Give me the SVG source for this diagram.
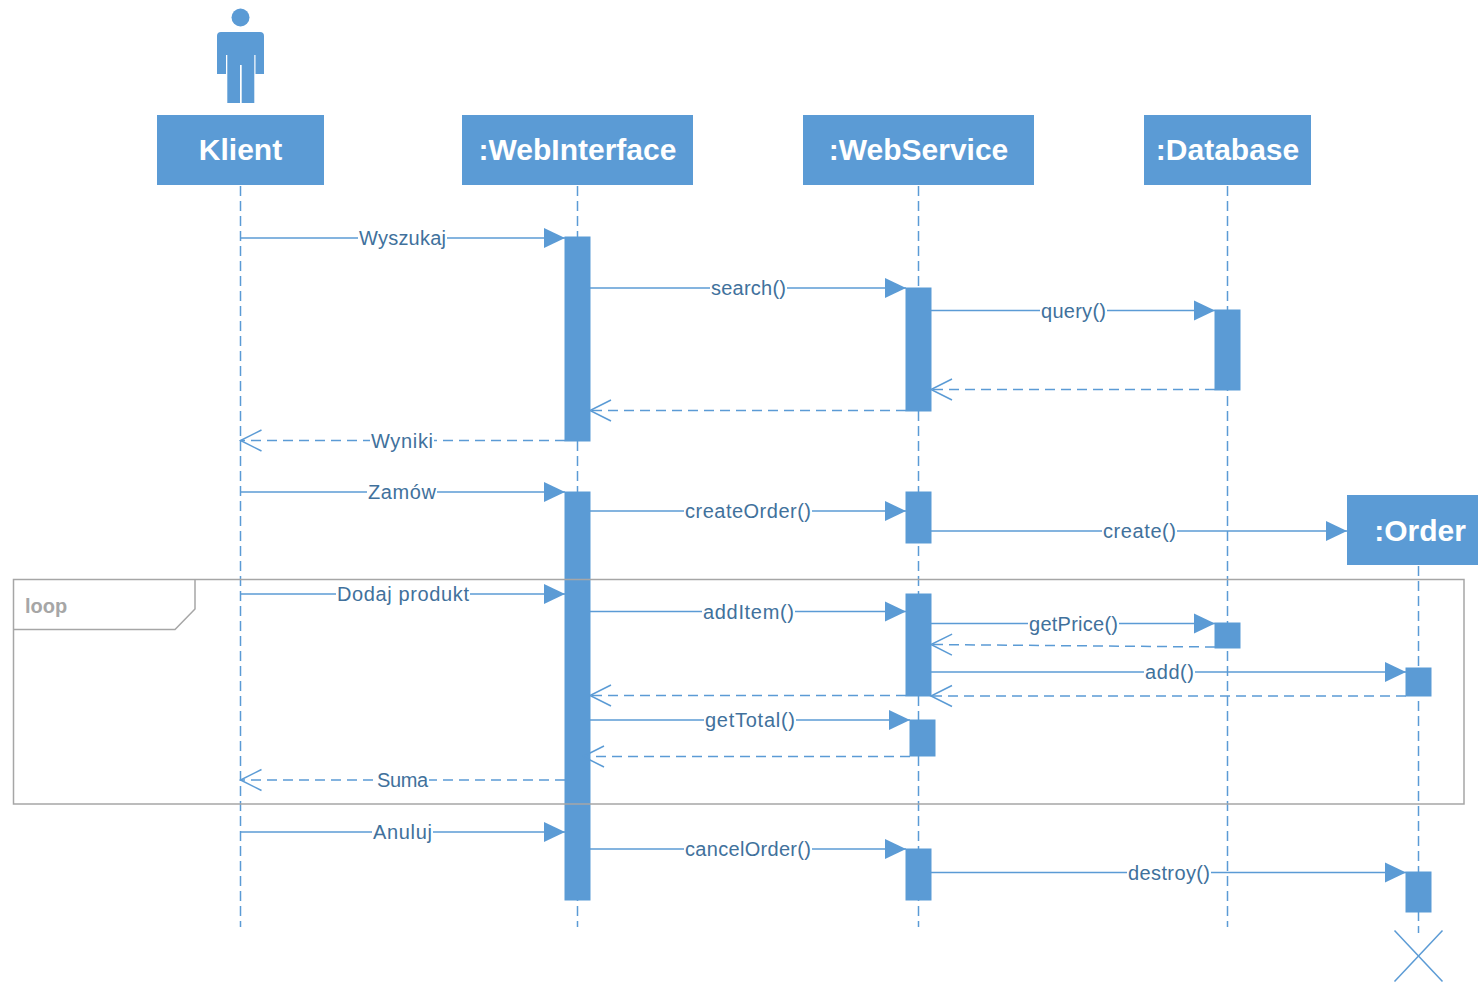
<svg xmlns="http://www.w3.org/2000/svg" width="1478" height="982" viewBox="0 0 1478 982">
<style>
.head{fill:#5B9BD5}
.ht{font-family:"Liberation Sans",Arial,sans-serif;font-weight:bold;font-size:30px;fill:#fff;text-anchor:middle}
.life{stroke:#5B9BD5;stroke-width:1.5;stroke-dasharray:10 5;fill:none}
.act{fill:#5B9BD5;stroke:#5B9BD5;stroke-width:1}
.msg{stroke:#5B9BD5;stroke-width:1.5;fill:none;marker-end:url(#fill)}
.ret{stroke:#5B9BD5;stroke-width:1.5;fill:none;stroke-dasharray:10 6;marker-end:url(#open)}
.lbl{font-family:"Liberation Sans",Arial,sans-serif;font-size:20px;fill:#41719C;text-anchor:middle}
.bg{fill:#fff}
.frame{fill:none;stroke:#A6A6A6;stroke-width:1.5}
.ft{font-family:"Liberation Sans",Arial,sans-serif;font-weight:bold;font-size:20px;fill:#A6A6A6}
</style>
<defs>
<marker id="fill" markerUnits="userSpaceOnUse" markerWidth="22" markerHeight="22" refX="21" refY="10" orient="auto" overflow="visible">
<path d="M0,0 L21,10 L0,20 Z" fill="#5B9BD5"/>
</marker>
<marker id="open" markerUnits="userSpaceOnUse" markerWidth="22" markerHeight="22" refX="21" refY="10.5" orient="auto" overflow="visible">
<path d="M0,0 L21,10.5 L0,21" fill="none" stroke="#5B9BD5" stroke-width="1.5"/>
</marker>
</defs>
<rect width="1478" height="982" fill="#fff"/>

<g id="lifelines">
<line class="life" x1="240.5" y1="186" x2="240.5" y2="927"/>
<line class="life" x1="577.5" y1="186" x2="577.5" y2="927"/>
<line class="life" x1="918.5" y1="186" x2="918.5" y2="927"/>
<line class="life" x1="1227.5" y1="186" x2="1227.5" y2="927"/>
<line class="life" x1="1418.5" y1="566" x2="1418.5" y2="933"/>
</g>

<g id="klient">
<circle class="head" cx="240.5" cy="17.5" r="9"/>
<path class="head" d="M217,36 Q217,32 221,32 L260,32 Q264,32 264,36 L264,74 L255.5,74 L255.5,55 L254.3,55 L254.3,103 L241.7,103 L241.7,65 L240,65 L240,103 L227.3,103 L227.3,55 L226,55 L226,74 L217,74 Z"/>
<rect class="head" x="157" y="115" width="167" height="70"/>
<text class="ht" x="240.5" y="160">Klient</text>
</g>
<g id="webinterface">
<rect class="head" x="462" y="115" width="231" height="70"/>
<text class="ht" x="577.5" y="160">:WebInterface</text>
</g>
<g id="webservice">
<rect class="head" x="803" y="115" width="231" height="70"/>
<text class="ht" x="918.5" y="160">:WebService</text>
</g>
<g id="database">
<rect class="head" x="1144" y="115" width="167" height="70"/>
<text class="ht" x="1227.5" y="160">:Database</text>
</g>
<g id="order">
<rect class="head" x="1347" y="495" width="143" height="70"/>
<text class="ht" x="1420" y="541">:Order</text>
</g>

<g id="activations">
<rect class="act" x="565" y="237" width="25" height="204"/>
<rect class="act" x="565" y="492" width="25" height="408"/>
<rect class="act" x="906" y="288" width="25" height="123"/>
<rect class="act" x="1215" y="310" width="25" height="80"/>
<rect class="act" x="906" y="492" width="25" height="51"/>
<rect class="act" x="906" y="594" width="25" height="102"/>
<rect class="act" x="1215" y="623" width="25" height="25"/>
<rect class="act" x="1406" y="668" width="25" height="28"/>
<rect class="act" x="910" y="720" width="25" height="36"/>
<rect class="act" x="906" y="849" width="25" height="51"/>
<rect class="act" x="1406" y="872" width="25" height="40"/>
</g>

<g id="connectors">
<line class="msg" x1="240.5" y1="238" x2="565" y2="238"/>
<rect class="bg" x="358" y="235" width="89" height="6"/>
<text class="lbl" x="402.5" y="245" textLength="87" lengthAdjust="spacing">Wyszukaj</text>

<line class="msg" x1="590" y1="288" x2="906" y2="288"/>
<rect class="bg" x="710" y="285" width="77" height="6"/>
<text class="lbl" x="748.5" y="295" textLength="75" lengthAdjust="spacing">search()</text>

<line class="msg" x1="931" y1="310.5" x2="1215" y2="310.5"/>
<rect class="bg" x="1040" y="307" width="67" height="6"/>
<text class="lbl" x="1073.5" y="317.5" textLength="65" lengthAdjust="spacing">query()</text>

<line class="ret" x1="1215" y1="389.5" x2="931" y2="389.5"/>
<line class="ret" x1="906" y1="410.5" x2="590" y2="410.5"/>

<line class="ret" x1="565" y1="440.5" x2="240.5" y2="440.5"/>
<rect class="bg" x="370" y="437" width="64" height="7"/>
<text class="lbl" x="402" y="447.5" textLength="62" lengthAdjust="spacing">Wyniki</text>

<line class="msg" x1="240.5" y1="492" x2="565" y2="492"/>
<rect class="bg" x="367" y="489" width="70" height="6"/>
<text class="lbl" x="402" y="499" textLength="68" lengthAdjust="spacing">Zamów</text>

<line class="msg" x1="590" y1="511" x2="906" y2="511"/>
<rect class="bg" x="684" y="508" width="128" height="6"/>
<text class="lbl" x="748" y="518" textLength="126" lengthAdjust="spacing">createOrder()</text>

<line class="msg" x1="931" y1="531" x2="1347" y2="531"/>
<rect class="bg" x="1102" y="528" width="75" height="6"/>
<text class="lbl" x="1139.5" y="538" textLength="73" lengthAdjust="spacing">create()</text>

<line class="msg" x1="240.5" y1="594" x2="565" y2="594"/>
<rect class="bg" x="336" y="591" width="134" height="6"/>
<text class="lbl" x="403" y="601" textLength="132" lengthAdjust="spacing">Dodaj produkt</text>

<line class="msg" x1="590" y1="611.5" x2="906" y2="611.5"/>
<rect class="bg" x="702" y="608" width="93" height="7"/>
<text class="lbl" x="748.5" y="618.5" textLength="91" lengthAdjust="spacing">addItem()</text>

<line class="msg" x1="931" y1="623.5" x2="1215" y2="623.5"/>
<rect class="bg" x="1028" y="620" width="91" height="7"/>
<text class="lbl" x="1073.5" y="630.5" textLength="89" lengthAdjust="spacing">getPrice()</text>

<line class="ret" x1="1215" y1="647" x2="931" y2="644.5"/>

<line class="msg" x1="931" y1="672" x2="1406" y2="672"/>
<rect class="bg" x="1144" y="669" width="51" height="6"/>
<text class="lbl" x="1169.5" y="679" textLength="49" lengthAdjust="spacing">add()</text>

<line class="ret" x1="1406" y1="696" x2="931" y2="696"/>
<line class="ret" x1="906" y1="695.5" x2="590" y2="695.5"/>

<line class="msg" x1="590" y1="720" x2="910" y2="720"/>
<rect class="bg" x="704" y="717" width="92" height="6"/>
<text class="lbl" x="750" y="727" textLength="90" lengthAdjust="spacing">getTotal()</text>

<line class="ret" x1="910" y1="756.5" x2="583" y2="756.5"/>

<line class="ret" x1="565" y1="780" x2="240.5" y2="780"/>
<rect class="bg" x="376" y="777" width="53" height="6"/>
<text class="lbl" x="402.5" y="787" textLength="51" lengthAdjust="spacing">Suma</text>

<line class="msg" x1="240.5" y1="832" x2="565" y2="832"/>
<rect class="bg" x="372" y="829" width="61" height="6"/>
<text class="lbl" x="402.5" y="839" textLength="59" lengthAdjust="spacing">Anuluj</text>

<line class="msg" x1="590" y1="849" x2="906" y2="849"/>
<rect class="bg" x="684" y="846" width="128" height="6"/>
<text class="lbl" x="748" y="856" textLength="126" lengthAdjust="spacing">cancelOrder()</text>

<line class="msg" x1="931" y1="872.5" x2="1406" y2="872.5"/>
<rect class="bg" x="1127" y="869" width="84" height="7"/>
<text class="lbl" x="1169" y="879.5" textLength="82" lengthAdjust="spacing">destroy()</text>
</g>

<g id="destroy-mark">
<line x1="1394.5" y1="930.5" x2="1442.5" y2="981.5" stroke="#5B9BD5" stroke-width="1.5"/>
<line x1="1442.5" y1="930.5" x2="1394.5" y2="981.5" stroke="#5B9BD5" stroke-width="1.5"/>
</g>

<g id="loop">
<rect class="frame" x="13.5" y="579.5" width="1450.5" height="224.5"/>
<path class="frame" d="M13.5,629.5 L175,629.5 L195,609 L195,579.5"/>
<text class="ft" x="25" y="612.5">loop</text>
</g>
</svg>
